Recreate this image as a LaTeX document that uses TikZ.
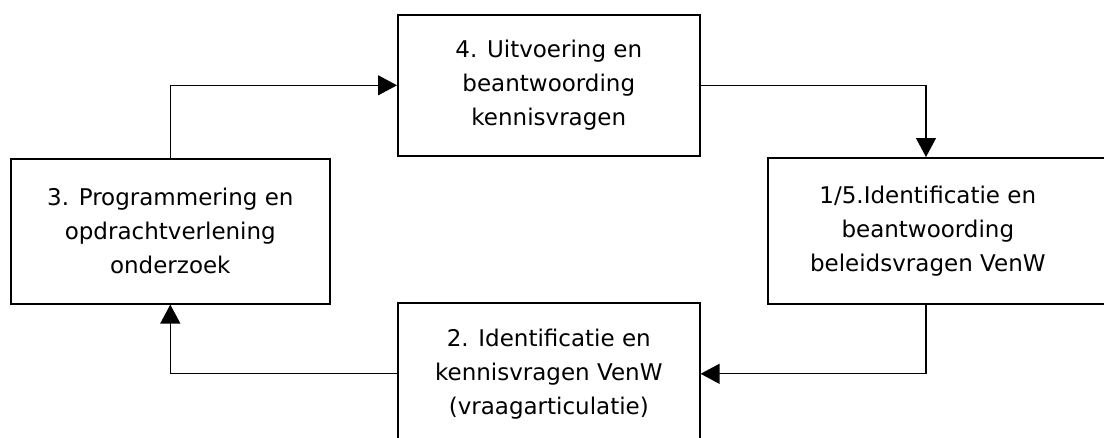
\documentclass[tikz,border=0pt]{standalone}
\usepackage{fontspec}
\setmainfont{DejaVu Sans}
\usetikzlibrary{arrows.meta,calc}

\begin{document}
\begin{tikzpicture}[x=1pt,y=-1pt,>={Triangle[length=19pt,width=20pt]},
  line width=1.3pt,
  box node/.style={rectangle,draw,line width=1.6pt,anchor=north west,align=center,
    inner sep=0pt,font=\fontsize{23}{34}\selectfont}]
  \clip (0,0) rectangle (1104,437);

  \node[box node,minimum width=302,minimum height=141] (4) at (397,14)
    {4. Uitvoering en\\beantwoording\\kennisvragen};
  \node[box node,minimum width=319,minimum height=145] (3) at (10,158)
    {3. Programmering en\\opdrachtverlening\\onderzoek};
  \node[box node,minimum width=360,minimum height=146] (15) at (767,157)
    {\parbox{320pt}{\centering 1/5.Identificatie en\\beantwoording\\beleidsvragen VenW}\hspace{40pt}};
  \node[box node,minimum width=302,minimum height=142] (2) at (397,302)
    {2. Identificatie en\\kennisvragen VenW\\(vraagarticulatie)};

  \coordinate (15in) at ($(15.north west)+(159,0)$);
  \coordinate (15out) at ($(15.south west)+(159,0)$);

  \draw[->] (3.north) |- (4.west);
  \draw[->] (4.east) -| (15in);
  \draw[->] (15out) |- (2.east);
  \draw[->] (2.west) -| (3.south);
\end{tikzpicture}
\end{document}
